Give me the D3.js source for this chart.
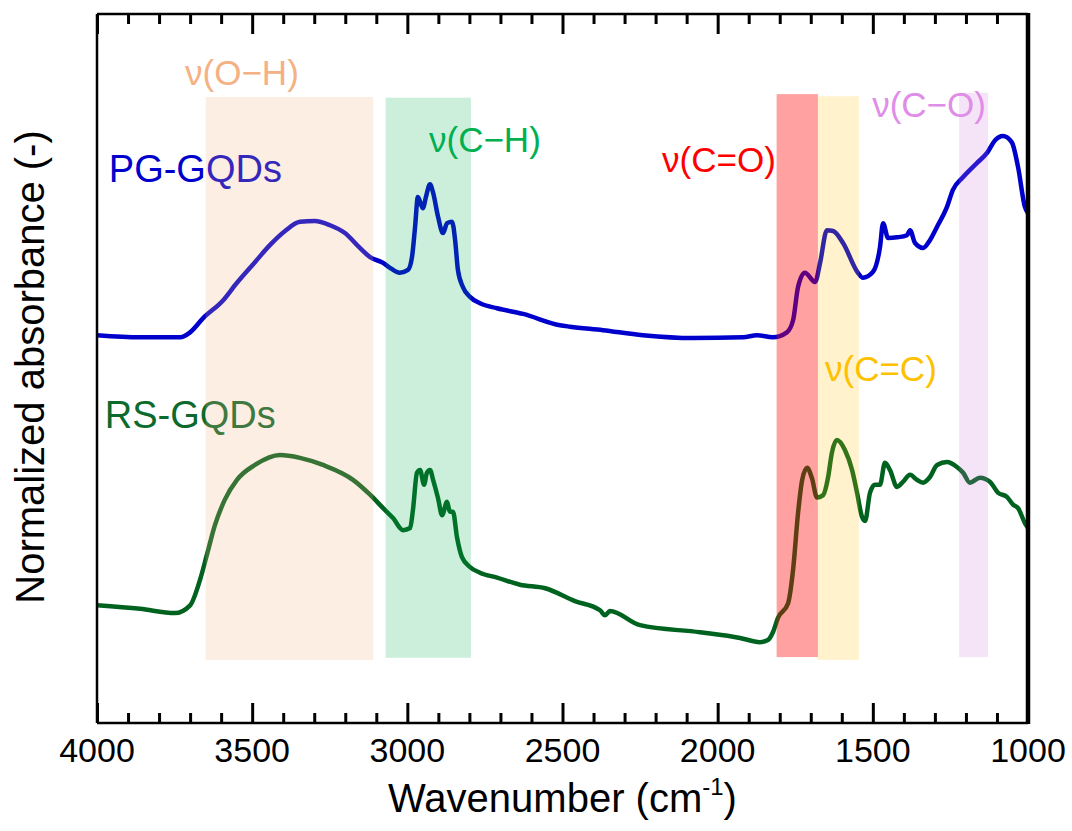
<!DOCTYPE html>
<html>
<head>
<meta charset="utf-8">
<script src="https://cdn.jsdelivr.net/npm/d3@7"></script>
<style>
  body { margin: 0; background: #fff; }
  svg { display: block; }
  text { font-family: "Liberation Sans", Arial, Helvetica, sans-serif; }
</style>
</head>
<body>
<svg id="chart" width="1072" height="831"></svg>
<script>
// FTIR spectra of the two GQD samples (normalized, offset for clarity)
const wnPG = [4000,3861,3732,3700,3658,3594,3549,3491,3443,3394,3346,3298,3249,3201,3153,3120,3078,3056,3024,2998,2985,2975,2966,2950,2940,2927,2917,2901,2885,2872,2856,2846,2837,2821,2798,2766,2711,2627,2508,2476,2370,2241,2080,1918,1873,1822,1777,1757,1741,1719,1686,1670,1648,1628,1596,1548,1532,1500,1477,1467,1451,1422,1390,1380,1364,1338,1316,1293,1261,1242,1209,1164,1132,1106,1081,1052,1032,1010,1000];
const absPG = [.547,.544,.544,.551,.571,.596,.621,.650,.674,.694,.707,.708,.702,.691,.670,.657,.649,.642,.635,.639,.657,.700,.742,.726,.742,.760,.748,.714,.691,.705,.707,.681,.639,.615,.601,.592,.585,.577,.561,.559,.554,.547,.543,.544,.547,.544,.551,.568,.615,.635,.622,.649,.695,.694,.677,.635,.628,.636,.671,.705,.684,.685,.688,.695,.677,.670,.681,.700,.728,.752,.770,.790,.804,.822,.828,.819,.784,.728,.719];

const wnRS = [4000,3861,3749,3700,3668,3646,3620,3588,3549,3491,3410,3346,3272,3175,3120,3078,3046,3014,2991,2982,2969,2959,2946,2937,2927,2917,2901,2888,2872,2863,2853,2840,2824,2798,2766,2711,2637,2556,2460,2379,2363,2347,2250,2057,1928,1864,1838,1822,1806,1773,1757,1741,1728,1712,1696,1680,1661,1644,1632,1616,1590,1567,1551,1535,1525,1509,1493,1477,1461,1445,1422,1403,1380,1358,1338,1316,1293,1261,1229,1209,1187,1155,1122,1097,1068,1048,1032,1010,1000];
const absRS = [.166,.161,.155,.166,.202,.237,.279,.315,.343,.364,.378,.374,.364,.343,.322,.303,.289,.272,.275,.300,.353,.357,.336,.353,.357,.343,.317,.293,.312,.298,.298,.262,.234,.220,.212,.205,.195,.190,.172,.159,.152,.158,.138,.128,.120,.114,.117,.128,.148,.169,.216,.296,.342,.360,.345,.318,.321,.347,.381,.399,.385,.357,.325,.291,.285,.325,.336,.336,.367,.357,.333,.340,.350,.343,.339,.347,.364,.368,.361,.353,.339,.346,.340,.325,.319,.308,.303,.282,.275];

const seriesNames = ["PG-GQDs", "RS-GQDs"];

// Assigned vibration bands (wavenumber ranges, cm-1)
const bandNames = ["ν(O−H)", "ν(C−H)", "ν(C=O)", "ν(C=C)", "ν(C−O)"];
const bandFrom  = [3650, 3070, 1810, 1677, 1222];
const bandTo    = [3110, 2795, 1677, 1545, 1129];
const bandLow   = [0.089, 0.092, 0.093, 0.089, 0.093];
const bandHigh  = [0.883, 0.882, 0.887, 0.884, 0.889];

const xTicksMajor = [4000, 3500, 3000, 2500, 2000, 1500, 1000];
const xTicksMinor = d3.range(4000, 999, -100);

// ---- layout & style ----
const W = 1072, H = 831;
const m = { left: 97, right: 44, top: 14, bottom: 108 };
const pw = W - m.left - m.right, ph = H - m.top - m.bottom;

const seriesColor = ["#0000cc", "#00621f"];
const seriesLabelColor = ["#0000cc", "#0b6a2c"];
const bandColor = ["#f4b183", "#00b050", "#ff0000", "#ffc000", "#cd78d7"];
const bandAlpha = [0.22, 0.2, 0.37, 0.2, 0.2];
const bandLabelColor = ["#f4b183", "#00b050", "#ff0000", "#ffc000", "#e08de8"];
// label anchors in data coordinates [wavenumber, absorbance]
const bandLabelAt = [[3533, 0.900], [2750, 0.805], [1996, 0.777], [1474, 0.482], [1319, 0.855]];
const seriesLabelAt = [[3962, 0.763], [3975, 0.416]];

const svg = d3.select("#chart");
const g = svg.append("g").attr("transform", `translate(${m.left},${m.top})`);

const x = d3.scaleLinear().domain([4000, 1000]).range([0, pw]);
const y = d3.scaleLinear().domain([0, 1]).range([ph, 0]);

g.append("clipPath").attr("id", "plot-clip")
  .append("rect").attr("width", pw).attr("height", ph);

const series = [
  wnPG.map((w, i) => [w, absPG[i]]),
  wnRS.map((w, i) => [w, absRS[i]])
];

const line = d3.line()
  .x(d => x(d[0])).y(d => y(d[1]))
  .curve(d3.curveMonotoneX);

const plot = g.append("g").attr("clip-path", "url(#plot-clip)");
plot.selectAll("path.spec")
  .data(series)
  .join("path")
  .attr("class", "spec")
  .attr("d", line)
  .attr("fill", "none")
  .attr("stroke", (d, i) => seriesColor[i])
  .attr("stroke-width", 4.5)
  .attr("stroke-linejoin", "round")
  .attr("stroke-linecap", "round");

// series names
g.selectAll("text.series")
  .data(seriesNames)
  .join("text")
  .attr("class", "series")
  .attr("x", (d, i) => x(seriesLabelAt[i][0]))
  .attr("y", (d, i) => y(seriesLabelAt[i][1]))
  .attr("font-size", 38)
  .attr("fill", (d, i) => seriesLabelColor[i])
  .text(d => d);

// translucent band highlights over the spectra
g.selectAll("rect.band")
  .data(bandNames)
  .join("rect")
  .attr("class", "band")
  .attr("x", (d, i) => x(bandFrom[i]))
  .attr("width", (d, i) => x(bandTo[i]) - x(bandFrom[i]))
  .attr("y", (d, i) => y(bandHigh[i]))
  .attr("height", (d, i) => y(bandLow[i]) - y(bandHigh[i]))
  .attr("fill", (d, i) => bandColor[i])
  .attr("fill-opacity", (d, i) => bandAlpha[i]);

g.selectAll("text.band-label")
  .data(bandNames)
  .join("text")
  .attr("class", "band-label")
  .attr("x", (d, i) => x(bandLabelAt[i][0]))
  .attr("y", (d, i) => y(bandLabelAt[i][1]))
  .attr("text-anchor", "middle")
  .attr("font-size", 35)
  .attr("fill", (d, i) => bandLabelColor[i])
  .text(d => d);

// frame
const frame = g.append("g").attr("stroke", "#000").attr("fill", "none");
frame.append("line").attr("x1", 0).attr("x2", pw).attr("y1", 0).attr("y2", 0).attr("stroke-width", 2.5);
frame.append("line").attr("x1", 0).attr("x2", pw).attr("y1", ph).attr("y2", ph).attr("stroke-width", 2.5);
frame.append("line").attr("x1", 0).attr("x2", 0).attr("y1", 0).attr("y2", ph).attr("stroke-width", 2.5);
frame.append("line").attr("x1", pw).attr("x2", pw).attr("y1", -1).attr("y2", ph + 1).attr("stroke-width", 4.5);

// inward ticks on top and bottom
function tickAxis(sel, axisGen) {
  sel.call(axisGen);
  sel.select(".domain").remove();
  sel.selectAll(".tick line").attr("stroke", "#000").attr("stroke-width", 3);
}
const minorOnly = xTicksMinor.filter(v => !xTicksMajor.includes(v));

tickAxis(g.append("g").attr("transform", `translate(0,${ph})`),
  d3.axisBottom(x).tickValues(minorOnly).tickSize(-10).tickFormat(""));
tickAxis(g.append("g").attr("transform", `translate(0,${ph})`),
  d3.axisBottom(x).tickValues(xTicksMajor).tickSize(-20).tickFormat(""));
tickAxis(g.append("g"),
  d3.axisTop(x).tickValues(minorOnly).tickSize(-10).tickFormat(""));
tickAxis(g.append("g"),
  d3.axisTop(x).tickValues(xTicksMajor).tickSize(-20).tickFormat(""));

// tick labels
g.selectAll("text.xtl")
  .data(xTicksMajor)
  .join("text")
  .attr("class", "xtl")
  .attr("x", d => x(d))
  .attr("y", ph + 39)
  .attr("text-anchor", "middle")
  .attr("font-size", 34)
  .attr("fill", "#000")
  .text(d => d);

// axis titles
const xt = svg.append("text")
  .attr("x", m.left + pw / 2)
  .attr("y", 812)
  .attr("text-anchor", "middle")
  .attr("font-size", 40)
  .attr("fill", "#000");
xt.append("tspan").text("Wavenumber (cm");
xt.append("tspan").attr("font-size", 24).attr("dy", -17).text("-1");
xt.append("tspan").attr("dy", 17).text(")");

svg.append("text")
  .attr("transform", `translate(44,${m.top + 353}) rotate(-90)`)
  .attr("text-anchor", "middle")
  .attr("font-size", 40)
  .attr("fill", "#000")
  .text("Normalized absorbance (-)");
</script>
</body>
</html>
